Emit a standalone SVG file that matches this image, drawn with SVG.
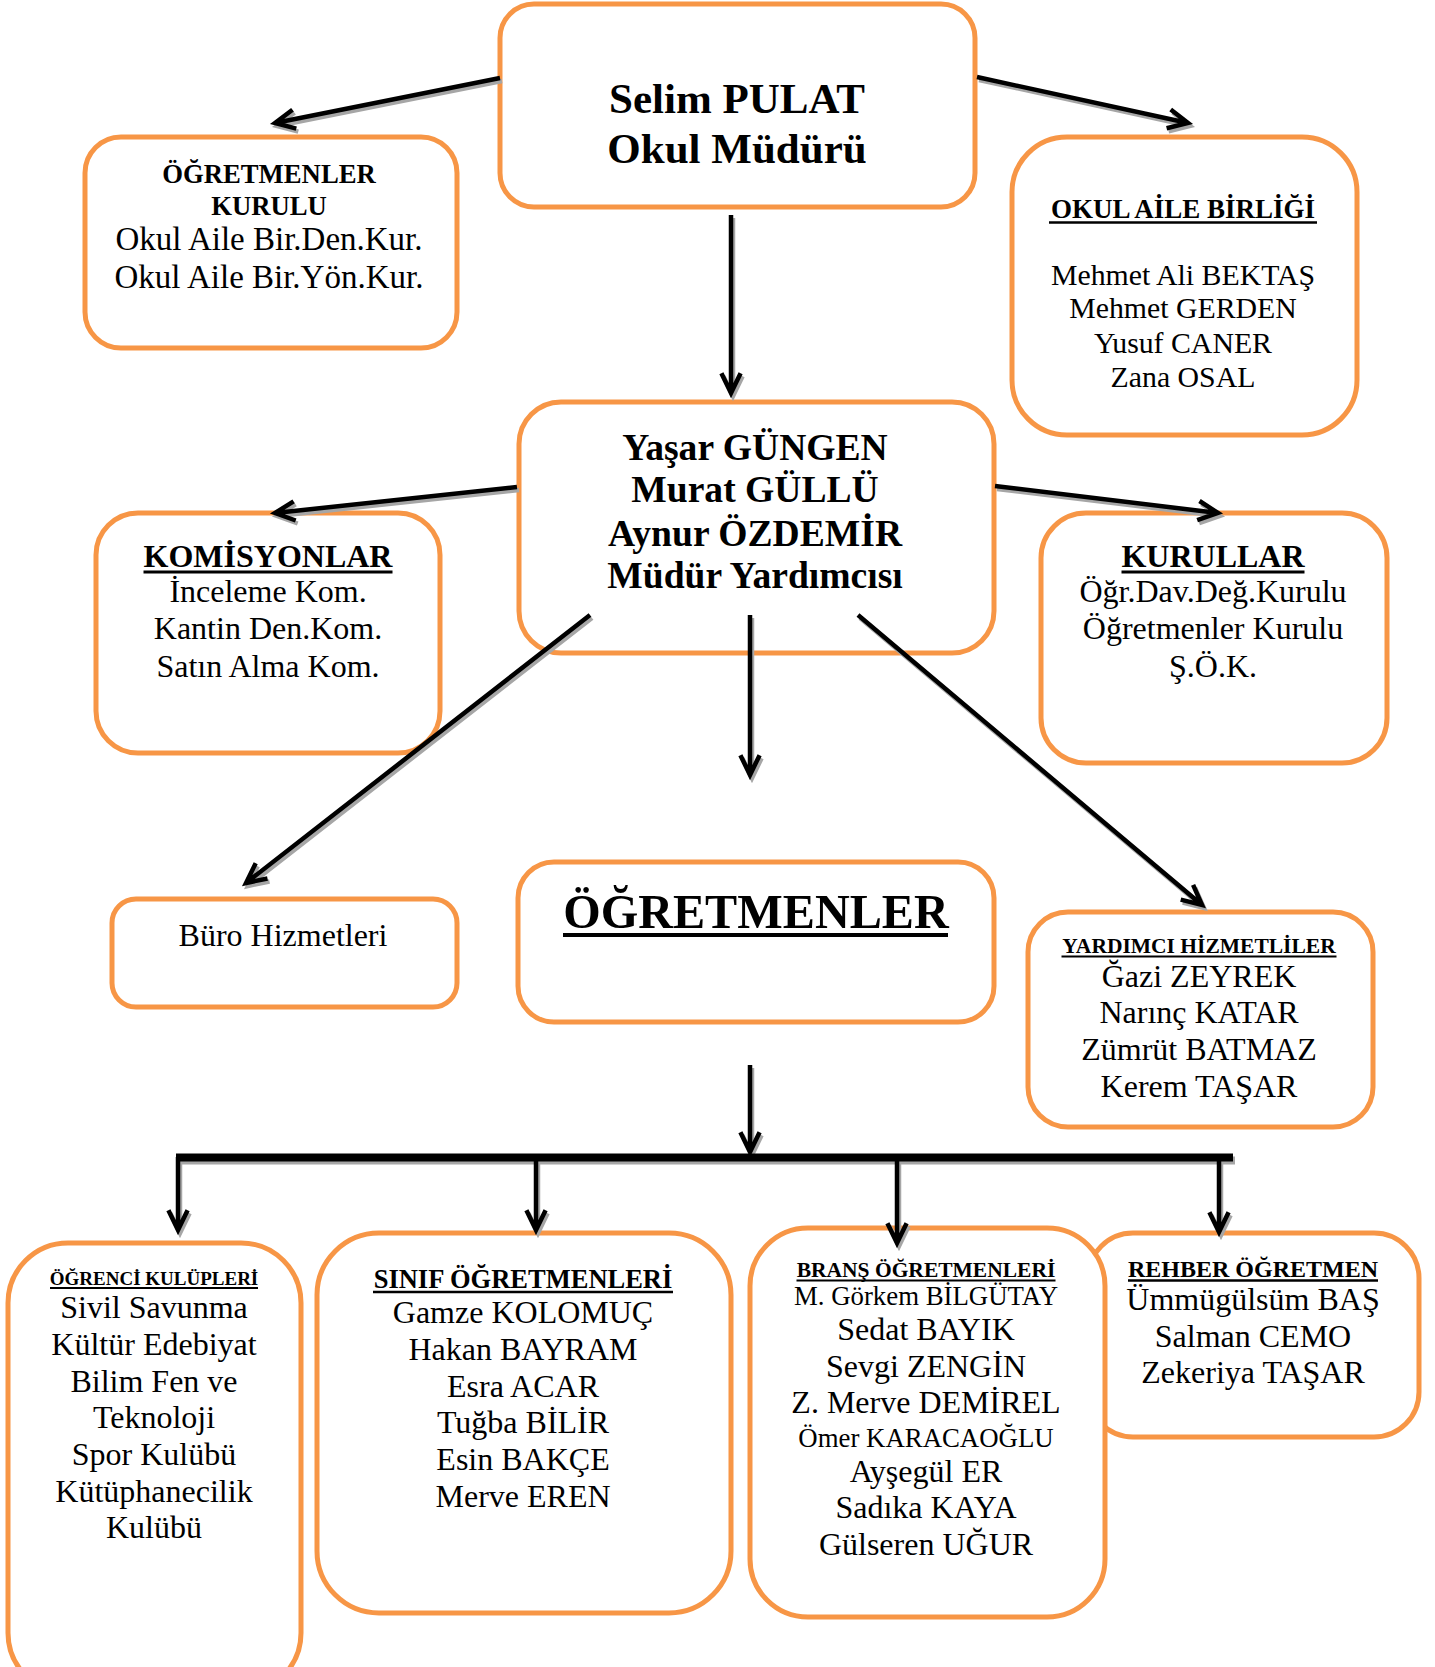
<svg xmlns="http://www.w3.org/2000/svg" xmlns:xlink="http://www.w3.org/1999/xlink" width="1435" height="1667" viewBox="0 0 1435 1667">
<style>
.box{fill:#fff;stroke:#F79646;stroke-width:5}
.t{font-family:"Liberation Serif","Times New Roman",serif;text-anchor:middle;fill:#000}
.b{font-weight:bold}
.s32{font-size:32px}
.ul{stroke:#000;fill:none}
</style>
<defs>
<g id="arrows" fill="none" stroke-width="4.5" stroke-linejoin="miter" stroke-miterlimit="10">
<path d="M500,78 L275,123 M292.5,109.7 L275,123 L296.3,128.6"/>
<path d="M977,77 L1188,123 M1170.7,109.4 L1188,123 L1166.6,128.2"/>
<path d="M731,215 L731,393 M721.4,373.2 L731,393 L740.6,373.2"/>
<path d="M517,487 L275,513 M293.6,501.3 L275,513 L295.7,520.5"/>
<path d="M995,486 L1218,513 M1199.5,501 L1218,513 L1197.2,520.2"/>
<path d="M590,615 L246,883 M255.7,863.2 L246,883 L267.5,878.5"/>
<path d="M750,615 L750,775 M740.4,755.2 L750,775 L759.6,755.2"/>
<path d="M858,615 L1202,905 M1193.1,884.9 L1202,905 L1180.7,899.6"/>
<path d="M750,1065 L750,1152 M740.4,1132.2 L750,1152 L759.6,1132.2"/>
<path d="M176,1157.5 L1233,1157.5" stroke-width="8"/>
<path d="M178,1157 L178,1230 M168.4,1210.2 L178,1230 L187.6,1210.2"/>
<path d="M536,1157 L536,1230 M526.4,1210.2 L536,1230 L545.6,1210.2"/>
<path d="M897,1157 L897,1243 M887.4,1223.2 L897,1243 L906.6,1223.2"/>
<path d="M1219,1157 L1219,1232 M1209.4,1212.2 L1219,1232 L1228.6,1212.2"/>
</g>
</defs>

<g id="node-mudur">
<rect class="box" x="500" y="4" width="475" height="203" rx="34"/>
<text class="t b" x="737" y="113" font-size="43">Selim PULAT</text>
<text class="t b" x="737" y="163" font-size="43">Okul Müdürü</text>
</g>

<g id="node-ogretmenler-kurulu">
<rect class="box" x="85" y="137" width="372" height="211" rx="36"/>
<text class="t b" x="269" y="183" font-size="26.7">ÖĞRETMENLER</text>
<text class="t b" x="269" y="215" font-size="26.7">KURULU</text>
<text class="t" x="269" y="250" font-size="33">Okul Aile Bir.Den.Kur.</text>
<text class="t" x="269" y="288" font-size="33">Okul Aile Bir.Yön.Kur.</text>
</g>

<g id="node-okul-aile-birligi">
<rect class="box" x="1012" y="137" width="345" height="298" rx="55"/>
<text class="t b" x="1183" y="218" font-size="27">OKUL AİLE BİRLİĞİ</text>
<line class="ul" x1="1049" y1="222.5" x2="1317" y2="222.5" stroke-width="2.5"/>
<text class="t" x="1183" y="285" font-size="29.8">Mehmet Ali BEKTAŞ</text>
<text class="t" x="1183" y="318" font-size="29.8">Mehmet GERDEN</text>
<text class="t" x="1183" y="353" font-size="29.8">Yusuf CANER</text>
<text class="t" x="1183" y="387" font-size="29.8">Zana OSAL</text>
</g>

<g id="node-mudur-yardimcisi">
<rect class="box" x="519" y="402" width="475" height="251" rx="42"/>
<text class="t b" x="755" y="460" font-size="37.6">Yaşar GÜNGEN</text>
<text class="t b" x="755" y="502" font-size="37.6">Murat GÜLLÜ</text>
<text class="t b" x="755" y="546" font-size="37.6">Aynur ÖZDEMİR</text>
<text class="t b" x="755" y="588" font-size="37.6">Müdür Yardımcısı</text>
</g>

<g id="node-komisyonlar">
<rect class="box" x="96" y="513" width="344" height="240" rx="42"/>
<text class="t b" x="268" y="567" font-size="32">KOMİSYONLAR</text>
<line class="ul" x1="143.5" y1="572" x2="392.5" y2="572" stroke-width="3"/>
<text class="t s32" x="268" y="602">İnceleme Kom.</text>
<text class="t s32" x="268" y="639">Kantin Den.Kom.</text>
<text class="t s32" x="268" y="677">Satın Alma Kom.</text>
</g>

<g id="node-kurullar">
<rect class="box" x="1041" y="513" width="346" height="250" rx="45"/>
<text class="t b" x="1213" y="567" font-size="32">KURULLAR</text>
<line class="ul" x1="1121.5" y1="572" x2="1304.5" y2="572" stroke-width="3"/>
<text class="t s32" x="1213" y="602">Öğr.Dav.Değ.Kurulu</text>
<text class="t s32" x="1213" y="639">Öğretmenler Kurulu</text>
<text class="t s32" x="1213" y="677">Ş.Ö.K.</text>
</g>

<g id="node-buro">
<rect class="box" x="112" y="899" width="345" height="108" rx="24"/>
<text class="t s32" x="283" y="946">Büro Hizmetleri</text>
</g>

<g id="node-ogretmenler">
<rect class="box" x="518" y="862" width="476" height="160" rx="36"/>
<text class="t b" x="756" y="928" font-size="48.2">ÖĞRETMENLER</text>
<line class="ul" x1="563" y1="935" x2="948" y2="935" stroke-width="4"/>
</g>

<g id="node-yardimci">
<rect class="box" x="1028" y="912" width="345" height="215" rx="40"/>
<text class="t b" x="1199" y="953" font-size="21.5">YARDIMCI HİZMETLİLER</text>
<line class="ul" x1="1061.5" y1="956.5" x2="1336.5" y2="956.5" stroke-width="2"/>
<text class="t s32" x="1199" y="987">Ğazi ZEYREK</text>
<text class="t s32" x="1199" y="1023">Narınç KATAR</text>
<text class="t s32" x="1199" y="1060">Zümrüt BATMAZ</text>
<text class="t s32" x="1199" y="1097">Kerem TAŞAR</text>
</g>

<g id="node-ogrenci-kulupleri">
<rect class="box" x="8" y="1243" width="293" height="450" rx="60"/>
<text class="t b" x="154" y="1285" font-size="19">ÖĞRENCİ KULÜPLERİ</text>
<line class="ul" x1="50" y1="1288" x2="258" y2="1288" stroke-width="2"/>
<text class="t s32" x="154" y="1318">Sivil Savunma</text>
<text class="t s32" x="154" y="1355">Kültür Edebiyat</text>
<text class="t s32" x="154" y="1392">Bilim Fen ve</text>
<text class="t s32" x="154" y="1428">Teknoloji</text>
<text class="t s32" x="154" y="1465">Spor Kulübü</text>
<text class="t s32" x="154" y="1502">Kütüphanecilik</text>
<text class="t s32" x="154" y="1538">Kulübü</text>
</g>

<g id="node-sinif">
<rect class="box" x="317" y="1233" width="414" height="380" rx="62"/>
<text class="t b" x="523" y="1288" font-size="26.5">SINIF ÖĞRETMENLERİ</text>
<line class="ul" x1="373" y1="1292" x2="673" y2="1292" stroke-width="2.5"/>
<text class="t s32" x="523" y="1323">Gamze KOLOMUÇ</text>
<text class="t s32" x="523" y="1360">Hakan BAYRAM</text>
<text class="t s32" x="523" y="1397">Esra ACAR</text>
<text class="t s32" x="523" y="1433">Tuğba BİLİR</text>
<text class="t s32" x="523" y="1470">Esin BAKÇE</text>
<text class="t s32" x="523" y="1507">Merve EREN</text>
</g>

<g id="node-rehber">
<rect class="box" x="1088" y="1233" width="331" height="204" rx="45"/>
<text class="t b" x="1253" y="1277" font-size="24">REHBER ÖĞRETMEN</text>
<line class="ul" x1="1128" y1="1280.5" x2="1378" y2="1280.5" stroke-width="2.5"/>
<text class="t s32" x="1253" y="1310">Ümmügülsüm BAŞ</text>
<text class="t s32" x="1253" y="1347">Salman CEMO</text>
<text class="t s32" x="1253" y="1383">Zekeriya TAŞAR</text>
</g>

<g id="node-brans">
<rect class="box" x="750" y="1228" width="355" height="389" rx="58"/>
<text class="t b" x="926" y="1277" font-size="21.5">BRANŞ ÖĞRETMENLERİ</text>
<line class="ul" x1="796.5" y1="1280.5" x2="1055.5" y2="1280.5" stroke-width="2"/>
<text class="t" x="926" y="1305" font-size="26.8">M. Görkem BİLGÜTAY</text>
<text class="t s32" x="926" y="1340">Sedat BAYIK</text>
<text class="t s32" x="926" y="1377">Sevgi ZENGİN</text>
<text class="t s32" x="926" y="1413">Z. Merve DEMİREL</text>
<text class="t" x="926" y="1447" font-size="26.8">Ömer KARACAOĞLU</text>
<text class="t s32" x="926" y="1482">Ayşegül ER</text>
<text class="t s32" x="926" y="1518">Sadıka KAYA</text>
<text class="t s32" x="926" y="1555">Gülseren UĞUR</text>
</g>

<g id="connectors">
<use xlink:href="#arrows" href="#arrows" x="2" y="3" stroke="#a6a6a6"/>
<use xlink:href="#arrows" href="#arrows" stroke="#000"/>
</g>
</svg>
